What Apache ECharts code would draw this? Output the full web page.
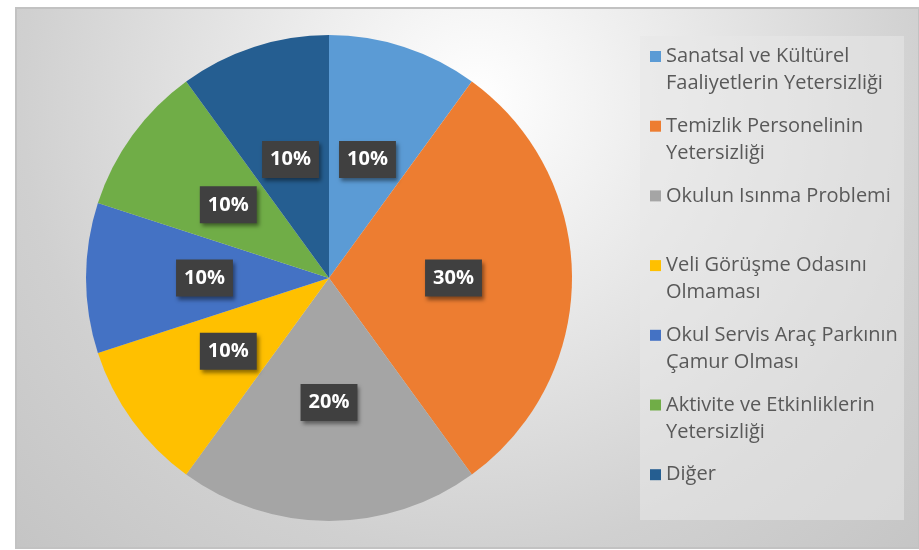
<!DOCTYPE html>
<html>
<head>
<meta charset="utf-8">
<script src="https://cdn.jsdelivr.net/npm/echarts@6/dist/echarts.min.js"></script>
<style>
    html, body { margin: 0; padding: 0; background: #ffffff; }
    #chart { width: 919px; height: 550px; }
</style>
</head>
<body>
<div id="chart"></div>
<script>
// kategoriler (legend satırları)
const categories = [
    'Sanatsal ve Kültürel\nFaaliyetlerin Yetersizliği',
    'Temizlik Personelinin\nYetersizliği',
    'Okulun Isınma Problemi\n\u00a0',
    'Veli Görüşme Odasını\nOlmaması',
    'Okul Servis Araç Parkının\nÇamur Olması',
    'Aktivite ve Etkinliklerin\nYetersizliği',
    'Diğer\n\u00a0'
];
// yüzde değerleri
const values = [10, 30, 20, 10, 10, 10, 10];
// dilim renkleri
const colors = ['#5B9BD5', '#ED7D31', '#A5A5A5', '#FFC000', '#4472C4', '#70AD47', '#255E91'];

const myChart = echarts.init(document.getElementById('chart'));

// legend ikonu: kare ilk satırın hizasında dursun
const legendIcon = 'path://M0,0 M0,8 L11,8 L11,19 L0,19 Z M11,54';

myChart.setOption({
    animation: false,
    color: colors,
    graphic: [
        {
            // arka plan
            type: 'rect',
            z: -10,
            shape: { x: 16, y: 8, width: 903, height: 540 },
            style: {
                fill: new echarts.graphic.RadialGradient(0.51, 0.17, 1.2, [
                    { offset: 0, color: '#ffffff' },
                    { offset: 0.7, color: '#d0d0d0' },
                    { offset: 1, color: '#c4c4c4' }
                ]),
                stroke: '#c2c2c2',
                lineWidth: 2
            }
        },
        {
            // legend kutusu
            type: 'rect',
            z: -5,
            shape: { x: 640, y: 36, width: 264, height: 484 },
            style: { fill: 'rgba(232,232,232,0.55)' }
        }
    ],
    legend: {
        orient: 'vertical',
        left: 650,
        top: 43,
        padding: 0,
        itemGap: 15.7,
        itemWidth: 11,
        itemHeight: 54,
        icon: legendIcon,
        selectedMode: false,
        textStyle: {
            color: '#595959',
            fontFamily: 'Open Sans',
            fontSize: 20,
            lineHeight: 27,
            padding: [0, 0, 0, 0]
        },
        data: categories
    },
    series: [{
        type: 'pie',
        center: [329, 278],
        radius: 243,
        startAngle: 90,
        clockwise: true,
        avoidLabelOverlap: false,
        itemStyle: { borderWidth: 0 },
        label: {
            show: true,
            position: 'inside',
            formatter: '{c}%',
            color: '#ffffff',
            fontFamily: 'Open Sans',
            fontWeight: 'bold',
            fontSize: 20,
            lineHeight: 21,
            backgroundColor: '#404040',
            padding: [8, 8, 8, 8],
            shadowColor: 'rgba(0,0,0,0.45)',
            shadowBlur: 4,
            shadowOffsetX: 2,
            shadowOffsetY: 3
        },
        labelLine: { show: false },
        emphasis: { disabled: true },
        data: categories.map((name, i) => ({ name: name, value: values[i] }))
    }]
});
</script>
</body>
</html>
